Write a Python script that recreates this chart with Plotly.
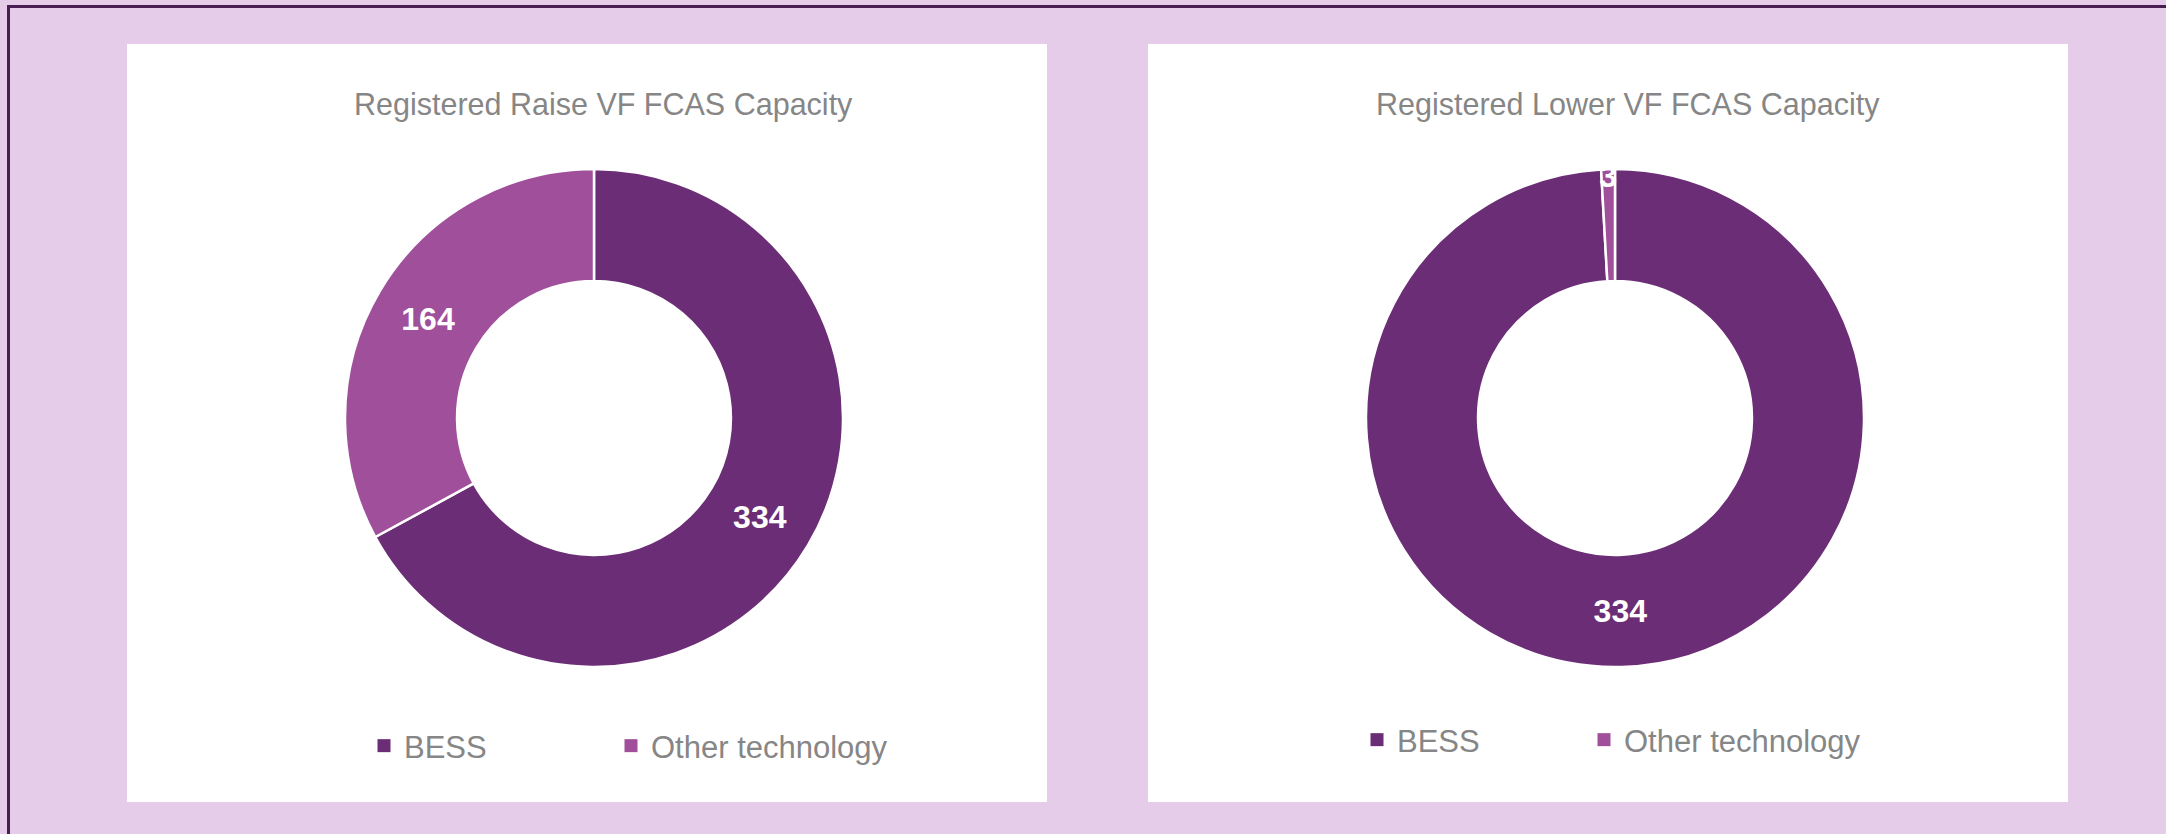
import plotly.graph_objects as go

# ---- data ----
labels = ["BESS", "Other technology"]
raise_values = [334, 164]
lower_values = [334, 3]
titles = ["Registered Raise VF FCAS Capacity", "Registered Lower VF FCAS Capacity"]

# ---- styles ----
W, H = 2166, 834
colors = ["#6B2D75", "#A0509B"]
bg = "#E5CCE9"
border = "#4A1D52"
font_family = "Liberation Sans, Arial, sans-serif"
gray = "#868686"


def px_x(v):
    return v / W


def px_y(v):
    return 1 - v / H


fig = go.Figure()

donut_centers = [594, 1615]
donut_cy = 418
donut_r = 249
legend_ids = ["legend", "legend2"]
groups = ["raise", "lower"]

for i, (vals, cx) in enumerate(zip([raise_values, lower_values], donut_centers)):
    dom = dict(x=[px_x(cx - donut_r), px_x(cx + donut_r)],
               y=[px_y(donut_cy + donut_r), px_y(donut_cy - donut_r)])
    fig.add_trace(go.Pie(
        labels=labels,
        values=vals,
        hole=0.55,
        sort=False,
        direction="clockwise",
        rotation=0,
        marker=dict(colors=colors, line=dict(color="white", width=2.5)),
        textinfo="value",
        textposition="inside",
        insidetextorientation="horizontal",
        textfont=dict(family=font_family, size=32, color="white", weight="bold"),
        domain=dom,
        legend=legend_ids[i],
        legendgroup=groups[i],
        showlegend=True,
        automargin=False,
        hoverinfo="label+value+percent",
    ))

shapes = []
# white panels
for x0, x1 in [(127, 1047), (1148, 2068)]:
    shapes.append(dict(type="rect", xref="paper", yref="paper",
                       x0=px_x(x0), x1=px_x(x1), y0=px_y(802), y1=px_y(44),
                       fillcolor="white", line=dict(width=0), layer="below"))
# outer border (top and left)
shapes.append(dict(type="line", xref="paper", yref="paper",
                   x0=px_x(7), x1=px_x(2170), y0=px_y(6.5), y1=px_y(6.5),
                   line=dict(color=border, width=3), layer="above"))
shapes.append(dict(type="line", xref="paper", yref="paper",
                   x0=px_x(8.5), x1=px_x(8.5), y0=px_y(5), y1=px_y(840),
                   line=dict(color=border, width=3), layer="above"))

annotations = []
for t, cx in zip(titles, [603, 1628]):
    annotations.append(dict(text=t, x=px_x(cx), y=px_y(104), xref="paper", yref="paper",
                            xanchor="center", yanchor="middle", showarrow=False,
                            font=dict(family=font_family, size=30.5, color=gray)))

legend_common = dict(orientation="h", yanchor="middle", xanchor="left",
                     bgcolor="rgba(0,0,0,0)", borderwidth=0, traceorder="normal",
                     font=dict(family=font_family, size=31, color=gray),
                     entrywidthmode="pixels", itemclick=False, itemdoubleclick=False)

fig.update_layout(
    width=W, height=H,
    margin=dict(l=0, r=0, t=0, b=0),
    paper_bgcolor=bg,
    plot_bgcolor=bg,
    shapes=shapes,
    annotations=annotations,
    uniformtext=dict(minsize=32, mode="show"),
    legend=dict(x=px_x(364), y=px_y(746), entrywidth=202, **legend_common),
    legend2=dict(x=px_x(1357), y=px_y(740), entrywidth=182, **legend_common),
)

# page tweaks: no body margin, let the last legend label overflow its entry box,
# and show the legend swatches without the white slice outline
post_js = """
document.body.style.margin='0';
document.body.style.overflow='hidden';
var gd = document.getElementById('{plot_id}');
function unclip(){
  document.querySelectorAll('g.scrollbox').forEach(function(e){
    e.removeAttribute('clip-path');
    e.style.clipPath = 'none';
  });
  document.querySelectorAll('g.legendpoints path').forEach(function(p){
    p.style.strokeWidth = '0';
    p.setAttribute('d', 'M6.5,6.5H-6.5V-6.5H6.5Z');
  });
}
unclip();
if (gd && gd.on) { gd.on('plotly_afterplot', unclip); }
setTimeout(unclip, 0);
setTimeout(unclip, 200);
"""

fig.write_html("out.html", post_script=post_js, config={"displayModeBar": False})
